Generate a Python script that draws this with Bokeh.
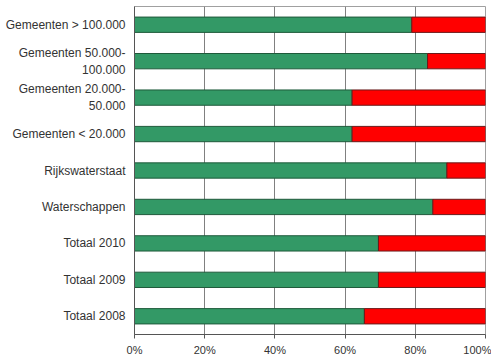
from bokeh.plotting import figure
from bokeh.models import FactorRange, PrintfTickFormatter, FixedTicker, Grid
from bokeh.embed import file_html
from bokeh.resources import INLINE

categories = [
    "Gemeenten > 100.000",
    "Gemeenten 50.000-\n100.000",
    "Gemeenten 20.000-\n50.000",
    "Gemeenten < 20.000",
    "Rijkswaterstaat",
    "Waterschappen",
    "Totaal 2010",
    "Totaal 2009",
    "Totaal 2008",
]
green_values = [79, 83.5, 62, 62, 89, 85, 69.5, 69.5, 65.5]
red_values = [100 - g for g in green_values]
x_ticks = [0, 20, 40, 60, 80, 100]

source = dict(cat=categories, green=green_values, red=red_values)

p = figure(
    y_range=FactorRange(*reversed(categories)),
    x_range=(0, 100),
    width=491, height=358,
    output_backend="svg", toolbar_location=None,
    min_border_left=134, min_border_right=6, min_border_top=6, min_border_bottom=0,
    background_fill_color="white", border_fill_color="white",
)
p.xgrid.visible = False
p.ygrid.visible = False

grid = Grid(dimension=0, ticker=FixedTicker(ticks=x_ticks),
            grid_line_color="#808080", grid_line_alpha=1.0, grid_line_width=1)
p.add_layout(grid, "center")

p.hbar_stack(["green", "red"], y="cat", height=0.42, source=source,
             color=["#339966", "#FF0000"],
             line_color=["#1f5a3b", "#6a1a1a"], line_width=1)

p.outline_line_color = "#a0a0a0"

p.xaxis.ticker = FixedTicker(ticks=x_ticks)
p.xaxis.formatter = PrintfTickFormatter(format="%d%%")
p.xaxis.minor_tick_line_color = None
p.xaxis.major_tick_out = 4
p.xaxis.major_tick_in = 0
p.xaxis.major_tick_line_color = "#555555"
p.yaxis.major_tick_line_color = None
p.yaxis.major_tick_out = 0

for ax in (p.xaxis[0], p.yaxis[0]):
    ax.axis_line_color = "#555555"
    ax.major_label_text_font = "Liberation Sans"
    ax.major_label_text_color = "#333333"
p.xaxis.major_label_text_font_size = "11px"
p.yaxis.major_label_text_font_size = "12px"

p.yaxis.major_label_standoff = 9
p.xaxis.major_label_standoff = 5

open("out.html", "w").write(file_html(p, INLINE))
